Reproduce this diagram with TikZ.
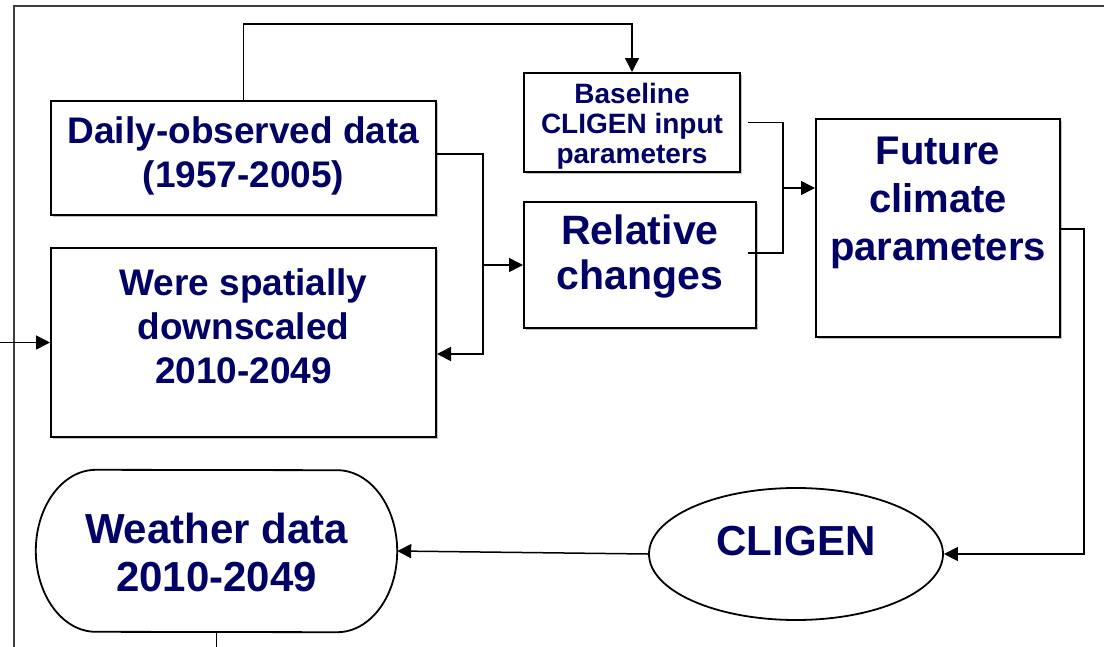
\documentclass[tikz,border=0pt]{standalone}
\usepackage{fontspec}
\setmainfont{Liberation Sans}
\usetikzlibrary{arrows.meta,shapes.geometric,shadows}
\definecolor{navy}{RGB}{0,0,102}
\begin{document}
\begin{tikzpicture}[x=1pt,y=-1pt,
  box/.style={draw, line width=2pt, fill=white, inner sep=0pt,
    drop shadow={opacity=1, fill=black!25, shadow xshift=1.5pt, shadow yshift=-1.5pt}},
  roundbox/.style={draw, line width=1.8pt, fill=white, inner sep=0pt},
  outline/.style={line width=1.8pt, draw=black},
  txt/.style={text=navy, align=center, inner sep=0pt},
  fA/.style={font=\bfseries\fontsize{28}{30}\selectfont},
  fB/.style={font=\bfseries\fontsize{37}{44}\selectfont},
  fC/.style={font=\bfseries\fontsize{41}{45}\selectfont},
  fD/.style={font=\bfseries\fontsize{40}{48}\selectfont},
  fE/.style={font=\bfseries\fontsize{42}{48}\selectfont},
  conn/.style={line width=1.5pt, draw=black},
  tip/.style={-{Triangle[length=14pt,width=14pt]}}
]
\useasboundingbox (0,0) rectangle (1104,646);
\clip (0,0) rectangle (1104,646);
\fill[white] (0,0) rectangle (1104,646);

% outer frame
\draw[line width=2.2pt, black!75] (14,660) -- (14,6) -- (1110,6);

% boxes
\node[box, minimum width=385pt, minimum height=114pt] (daily) at (243.5,158) {};
\node[box, minimum width=385pt, minimum height=189pt] (spat) at (243.5,342.5) {};
\node[box, minimum width=216pt, minimum height=99pt] (base) at (632,122.5) {};
\node[box, minimum width=232pt, minimum height=126pt] (rel) at (640,265) {};
\node[box, minimum width=244pt, minimum height=218pt] (fut) at (938,228) {};
\node[roundbox, ellipse, minimum width=294pt, minimum height=132pt] (cligen) at (796,554) {};
% weather terminal: rectangle with elliptical ends
\node[inner sep=0pt, minimum width=361pt, minimum height=162pt] (weather) at (216.5,551) {};
\draw[outline] ([xshift=60pt]weather.north west)
  arc[start angle=90, end angle=270, x radius=60pt, y radius=81pt]
  -- ([xshift=-60pt]weather.south east)
  arc[start angle=270, end angle=450, x radius=60pt, y radius=81pt]
  -- cycle;

% texts
\node[txt, fB] (dailyT) at (243.5,156) {Daily-observed data\\(1957-2005)};
\node[txt, fB] (spatT) at (243.5,326.5) {Were spatially\\downscaled\\2010-2049};
\node[txt, fA] (baseT) at (632,126) {Baseline\\CLIGEN input\\parameters};
\node[txt, fC] (relT) at (640,256) {Relative\\changes};
\node[txt, fD] (futT) at (938,203) {Future\\climate\\parameters};
\node[txt, fE] (cligenT) at (796,541) {CLIGEN};
\node[txt, fE] (weatherT) at (216.5,552) {Weather data\\2010-2049};

% connectors
\draw[conn, tip] (daily.north) -- ++(0,-76) -| (base.north);
\coordinate (j1) at (483,265);
\draw[conn, tip] ([yshift=4pt]daily.east) -- (483,154) |- ([yshift=-11.5pt]spat.east);
\draw[conn, tip] (j1) -- (rel.west);
\coordinate (j2) at (783,188);
\draw[conn] ([xshift=7pt]base.east) -- (783,122.5) -- (783,253) -- ([xshift=-9pt,yshift=12pt]rel.east);
\draw[conn, tip] (j2) -- ([yshift=40pt]fut.west);
\draw[conn, tip] ([yshift=-1pt]fut.east) -- (1084,229) |- (cligen.east);
\draw[conn, tip] (cligen.west) -- (weather.east);
\coordinate (lin) at (-2,342.5);
\draw[conn, tip] (lin) -- (spat.west);
\coordinate (wout) at (216.5,652);
\draw[conn] (weather.south) -- (wout);
\end{tikzpicture}
\end{document}
